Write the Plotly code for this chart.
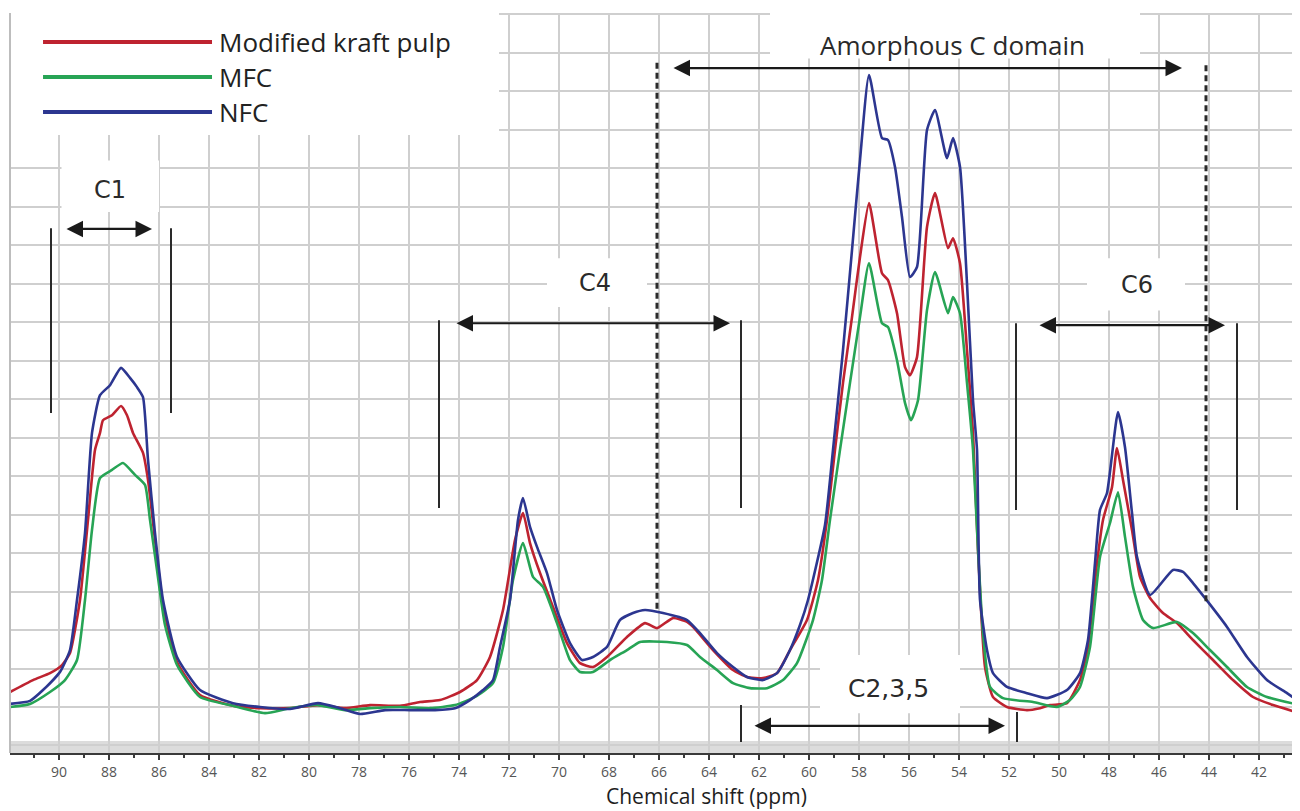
import plotly.graph_objects as go

# ---------------- data ----------------
ppm_nfc = [91.96, 91.16, 90.64, 89.96, 89.56, 89.28, 88.96, 88.68, 88.36, 87.96, 87.52, 87.16, 86.88, 86.64,
           86.44, 86.16, 85.84, 85.28, 84.36, 83.04, 81.96, 80.76, 79.64, 78.76, 77.96, 76.96, 75.96, 74.96,
           74.16, 73.56, 73.04, 72.64, 72.36, 71.96, 71.64, 71.44, 71.16, 70.88, 70.48, 70.08, 69.56, 69.08,
           68.64, 68.08, 67.56, 67.04, 66.56, 65.84, 64.88, 64.36, 63.68, 63.04, 62.48, 61.84, 61.28, 60.76,
           60.36, 60.04, 59.36, 59.04, 58.64, 58.28, 57.96, 57.60, 57.08, 56.84, 56.56, 56.28, 55.96, 55.68,
           55.28, 54.96, 54.48, 54.24, 53.96, 53.68, 53.44, 53.28, 53.16, 52.88, 52.64, 52.08, 51.28, 50.48,
           49.68, 49.16, 48.84, 48.56, 48.36, 48.08, 47.64, 47.36, 47.08, 46.88, 46.36, 45.44, 45.04, 44.64,
           44.04, 43.28, 42.48, 41.68, 40.88, 40.36]
int_nfc = [1.08, 1.16, 1.44, 1.91, 2.48, 3.78, 5.52, 8.12, 9.10, 9.36, 9.81, 9.55, 9.31, 9.05,
           7.42, 5.52, 3.78, 2.30, 1.44, 1.10, 1.00, 0.95, 1.10, 0.97, 0.82, 0.92, 0.92, 0.92,
           0.97, 1.18, 1.44, 1.70, 2.56, 3.78, 5.86, 6.43, 5.68, 5.16, 4.48, 3.52, 2.66, 2.22,
           2.30, 2.56, 3.26, 3.44, 3.52, 3.44, 3.26, 2.92, 2.40, 2.04, 1.78, 1.70, 1.88, 2.48,
           3.13, 3.78, 5.73, 7.68, 10.27, 12.87, 15.21, 17.42, 15.78, 15.73, 15.03, 13.73, 12.17, 12.43,
           15.99, 16.51, 15.26, 15.78, 15.03, 12.01, 8.97, 7.68, 3.78, 2.48, 1.88, 1.52, 1.36, 1.23,
           1.44, 1.88, 2.74, 4.74, 6.12, 6.56, 8.66, 7.75, 6.04, 4.90, 3.91, 4.56, 4.51, 4.22,
           3.73, 3.08, 2.30, 1.70, 1.36, 1.13]

ppm_kraft = [91.96, 91.04, 90.36, 89.88, 89.56, 89.16, 88.84, 88.56, 88.36, 88.24, 87.88, 87.52, 87.28, 87.04,
             86.64, 86.44, 86.16, 85.84, 85.28, 84.36, 83.04, 81.96, 80.76, 79.64, 78.56, 77.56, 76.36, 75.56,
             74.76, 73.96, 73.28, 72.76, 72.24, 71.76, 71.44, 71.16, 70.76, 70.24, 69.68, 69.16, 68.64, 68.08,
             67.28, 66.56, 66.08, 65.44, 64.88, 64.64, 63.84, 63.04, 62.48, 61.84, 61.28, 60.76, 60.08, 59.64,
             59.28, 58.96, 58.64, 58.28, 57.96, 57.60, 57.08, 56.84, 56.48, 56.16, 55.96, 55.68, 55.28, 54.96,
             54.44, 54.24, 53.96, 53.68, 53.44, 53.24, 52.96, 52.64, 52.08, 51.28, 50.76, 50.36, 49.68, 49.16,
             48.84, 48.48, 48.24, 47.88, 47.68, 47.44, 47.08, 46.76, 46.36, 45.84, 45.28, 44.64, 43.84, 43.04,
             42.24, 41.44, 40.36]
int_kraft = [1.39, 1.70, 1.88, 2.09, 2.40, 3.78, 5.86, 7.68, 8.12, 8.45, 8.58, 8.82, 8.58, 8.12,
             7.60, 6.90, 5.34, 3.65, 2.17, 1.31, 1.03, 0.97, 0.97, 1.05, 0.97, 1.05, 1.03, 1.13,
             1.18, 1.39, 1.70, 2.30, 3.52, 5.34, 6.04, 5.26, 4.48, 3.60, 2.66, 2.14, 2.04, 2.30,
             2.82, 3.18, 3.05, 3.31, 3.21, 3.08, 2.48, 1.96, 1.78, 1.75, 1.88, 2.48, 3.26, 4.30,
             5.86, 7.68, 9.42, 11.13, 12.69, 14.09, 12.27, 12.09, 11.23, 9.83, 9.62, 10.09, 13.47, 14.35,
             12.92, 13.18, 12.53, 10.27, 8.12, 5.08, 2.04, 1.26, 1.00, 0.92, 0.97, 1.05, 1.10, 1.70,
             2.56, 4.74, 5.86, 6.71, 7.73, 6.90, 5.60, 4.38, 3.83, 3.44, 3.18, 2.74, 2.22, 1.70,
             1.26, 1.05, 0.84]

ppm_mfc = [91.96, 91.16, 90.36, 89.76, 89.28, 88.96, 88.68, 88.36, 87.88, 87.44, 86.96, 86.56, 86.36, 86.08,
           85.76, 85.28, 84.36, 83.04, 81.76, 80.76, 79.64, 78.56, 77.56, 76.36, 75.16, 74.16, 73.36, 72.64,
           72.24, 71.84, 71.44, 71.04, 70.64, 70.08, 69.56, 69.16, 68.64, 67.96, 67.28, 66.76, 65.68, 64.88,
           64.36, 63.68, 63.04, 62.36, 61.68, 61.04, 60.48, 59.84, 59.48, 59.16, 58.76, 58.36, 57.96, 57.60,
           57.08, 56.84, 56.48, 56.16, 55.92, 55.64, 55.28, 54.96, 54.44, 54.24, 53.96, 53.68, 53.44, 53.24,
           53.04, 52.76, 52.24, 51.04, 50.08, 49.56, 49.16, 48.76, 48.36, 47.96, 47.64, 47.36, 47.04, 46.64,
           46.24, 45.28, 44.64, 43.96, 43.28, 42.48, 41.68, 40.36]
int_mfc = [1.00, 1.08, 1.39, 1.70, 2.22, 3.78, 5.60, 6.95, 7.16, 7.34, 7.03, 6.77, 5.86, 4.56,
           3.13, 2.09, 1.26, 1.03, 0.84, 0.97, 1.05, 0.92, 0.97, 1.00, 0.97, 1.05, 1.26, 1.62,
           2.56, 4.30, 5.26, 4.38, 4.12, 3.18, 2.22, 1.91, 1.91, 2.22, 2.48, 2.69, 2.69, 2.61,
           2.30, 1.96, 1.62, 1.49, 1.49, 1.70, 2.14, 3.26, 4.30, 5.86, 7.68, 9.42, 11.13, 12.53,
           10.97, 10.87, 10.01, 8.90, 8.45, 8.97, 11.31, 12.30, 11.23, 11.65, 11.23, 9.42, 7.68, 5.08,
           2.92, 1.52, 1.23, 1.13, 1.00, 1.18, 1.52, 2.56, 4.90, 5.78, 6.58, 5.42, 4.12, 3.26,
           3.05, 3.21, 2.92, 2.48, 2.04, 1.52, 1.26, 1.05]

series_names = ["Modified kraft pulp", "MFC", "NFC"]
series_colors = ["#BE2330", "#27A455", "#2C3690"]

x_range = [91.96, 40.36]
y_range = [-0.195, 19.03]

# ---------------- figure ----------------
fig = go.Figure()
for name, xs, ys, col in [(series_names[0], ppm_kraft, int_kraft, series_colors[0]),
                          (series_names[1], ppm_mfc, int_mfc, series_colors[1]),
                          (series_names[2], ppm_nfc, int_nfc, series_colors[2])]:
    fig.add_trace(go.Scatter(x=xs, y=ys, mode="lines", name=name, showlegend=False,
                             line=dict(color=col, width=2.6, shape="spline", smoothing=0.5)))

shapes = []
def box(x0, x1, y0, y1):
    shapes.append(dict(type="rect", xref="x", yref="y", x0=x0, x1=x1, y0=y0, y1=y1,
                       fillcolor="white", line=dict(width=0), layer="between"))

def vline(x, y0, y1, dash="solid", width=2):
    shapes.append(dict(type="line", xref="x", yref="y", x0=x, x1=x, y0=y0, y1=y1,
                       line=dict(color="#2a2a2a", width=width, dash=dash), layer="above"))

# white label boxes hiding the grid
box(91.96, 72.4, 15.86, 19.03)      # legend
box(89.9, 86.0, 13.86, 15.2)        # C1
box(70.48, 66.48, 11.39, 12.66)     # C4
box(61.56, 46.76, 17.85, 19.03)     # Amorphous
box(48.88, 44.96, 11.3, 12.66)      # C6
box(59.56, 53.96, 0.84, 2.35)       # C2,3,5
# gray band at bottom
shapes.append(dict(type="rect", xref="x", yref="y", x0=91.96, x1=40.36, y0=-0.195, y1=0.12,
                   fillcolor="#DCDCDC", line=dict(width=0), layer="below"))
# left border
shapes.append(dict(type="line", xref="paper", yref="paper", x0=0, x1=0, y0=0, y1=1,
                   line=dict(color="#BDBDBD", width=2), layer="above"))

# region markers
vline(90.32, 8.64, 13.44); vline(85.52, 8.64, 13.44)
vline(74.8, 6.17, 11.05); vline(62.72, 6.17, 11.05)
vline(51.72, 6.12, 10.97); vline(42.88, 6.12, 10.97)
vline(62.72, 0.09, 1.05); vline(51.68, 0.09, 0.87)
vline(66.08, 3.55, 17.75, "6px,4px", 3); vline(44.12, 3.75, 17.75, "6px,4px", 3)

# legend lines
legend_y = [0.9608, 0.9135, 0.8662]
for i, col in enumerate(series_colors):
    shapes.append(dict(type="line", xref="paper", yref="paper", x0=0.0256, x1=0.1566,
                       y0=legend_y[i], y1=legend_y[i],
                       line=dict(color=col, width=4), layer="above"))

annotations = []
for i, name in enumerate(series_names):
    annotations.append(dict(xref="paper", yref="paper", x=0.1605, y=legend_y[i], text=name, showarrow=False,
                            xanchor="left", yanchor="middle",
                            font=dict(family="Open Sans", size=26, color="#222222")))

def arrow(x0, x1, y):
    annotations.append(dict(xref="x", yref="y", axref="x", ayref="y", x=x1, y=y, ax=x0, ay=y,
                            text="", showarrow=True, arrowhead=2, startarrowhead=2,
                            arrowside="end+start", arrowsize=1.5, startarrowsize=1.5,
                            arrowwidth=2.2, arrowcolor="#1a1a1a"))

arrow(89.76, 86.28, 13.42)
arrow(74.16, 63.16, 10.97)
arrow(65.48, 45.08, 17.6)
arrow(50.84, 43.36, 10.92)
arrow(62.24, 52.16, 0.51)

def label(x, y, text, size=24, family="DejaVu Sans"):
    annotations.append(dict(xref="x", yref="y", x=x, y=y, text=text, showarrow=False,
                            xanchor="center", yanchor="middle",
                            font=dict(family=family, size=size, color="#2a2a2a")))

label(87.96, 14.43, "C1")
label(68.56, 12.01, "C4")
label(54.28, 18.19, "Amorphous C domain", 26, "Open Sans")
label(46.88, 11.96, "C6")
label(56.84, 1.49, "C2,3,5", 25)

annotations.append(dict(xref="paper", yref="paper", x=0.540, y=-0.0575, text="Chemical shift (ppm)",
                        showarrow=False, xanchor="center", yanchor="middle",
                        font=dict(family="Open Sans", size=21, color="#1e1e1e")))

# page body has an 8px margin: compensate so the plot area spans x 10-1300, y 13-753
fig.update_layout(
    width=1292, height=803,
    margin=dict(l=2, r=0, t=5, b=58),
    paper_bgcolor="white", plot_bgcolor="white",
    shapes=shapes, annotations=annotations,
    xaxis=dict(range=x_range, tick0=0, dtick=2, showgrid=True, gridcolor="#CFCFCF", gridwidth=2,
               zeroline=False, showline=True, linecolor="#3a3a3a", linewidth=2,
               ticks="outside", ticklen=5, tickwidth=2, tickcolor="#3a3a3a",
               tickfont=dict(family="Open Sans", size=14, color="#555555"),
               minor=dict(dtick=1, tick0=0, ticks="outside", ticklen=3, tickcolor="#3a3a3a", showgrid=False)),
    yaxis=dict(range=y_range, tick0=0, dtick=1, showgrid=True, gridcolor="#CFCFCF", gridwidth=2,
               zeroline=False, showticklabels=False, showline=False, ticks=""),
)
fig.update_xaxes(layer="below traces")

fig.write_html("out.html")
